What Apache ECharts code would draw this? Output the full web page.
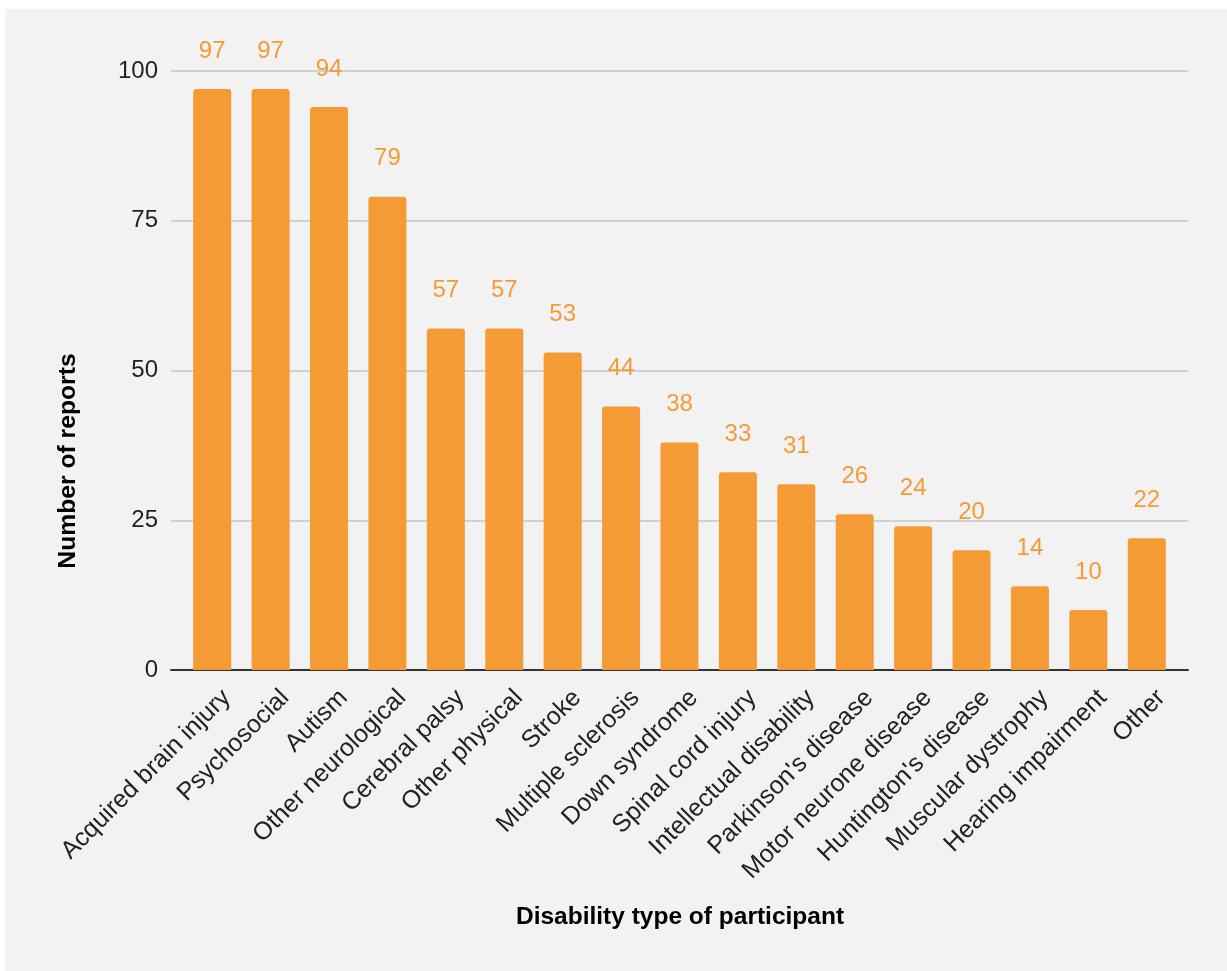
<!DOCTYPE html>
<html>
<head>
<meta charset="utf-8">
<title>Disability type of participant</title>
<script src="https://cdn.jsdelivr.net/npm/echarts@6/dist/echarts.min.js"></script>
<style>
  html, body { margin: 0; padding: 0; background: #fff; }
  #chart { width: 1227px; height: 971px; }
</style>
</head>
<body>
<div id="chart"></div>
<script>
// 类别 / 数值
const categories = [
  'Acquired brain injury', 'Psychosocial', 'Autism', 'Other neurological',
  'Cerebral palsy', 'Other physical', 'Stroke', 'Multiple sclerosis',
  'Down syndrome', 'Spinal cord injury', 'Intellectual disability',
  "Parkinson's disease", 'Motor neurone disease', "Huntington's disease",
  'Muscular dystrophy', 'Hearing impairment', 'Other'
]
const reports = [97, 97, 94, 79, 57, 57, 53, 44, 38, 33, 31, 26, 24, 20, 14, 10, 22]
const yTicks = [0, 25, 50, 75, 100]

const ORANGE = '#f49b36'
const FONT = '"Liberation Sans", Arial, sans-serif'
const chart = echarts.init(document.getElementById('chart'))

// 标签相对刻度向右偏移
const LABEL_SHIFT = 14.5

const option = {
  backgroundColor: '#ffffff',
  animation: false,
  graphic: [
    // 灰色面板
    { type: 'rect', z: -10, silent: true, shape: { x: 5, y: 9, width: 1222, height: 962 }, style: { fill: '#f2f2f2' } },
    {
      type: 'text', silent: true, x: 68, y: 461, rotation: Math.PI / 2,
      style: {
        text: 'Number of reports', fill: '#000', align: 'center', verticalAlign: 'middle',
        font: 'bold 24.7px ' + FONT
      }
    },
    {
      type: 'text', silent: true, x: 680, y: 917,
      style: {
        text: 'Disability type of participant', fill: '#000', align: 'center', verticalAlign: 'middle',
        font: 'bold 24.5px ' + FONT
      }
    }
  ],
  grid: [
    // 网格线 + 坐标轴线（略宽于柱子区域）
    { left: 171, right: 39, top: 71, bottom: 301, outerBoundsMode: 'none' },
    // 柱子
    { left: 183, right: 51, top: 71, bottom: 301, outerBoundsMode: 'none' },
    // 类别标签
    { left: 183 + LABEL_SHIFT, right: 51 - LABEL_SHIFT, top: 71, bottom: 301, outerBoundsMode: 'none' }
  ],
  xAxis: [
    {
      gridIndex: 0, type: 'category', data: [''],
      axisLine: { lineStyle: { color: '#333', width: 2 } },
      axisTick: { show: false }, axisLabel: { show: false }
    },
    {
      gridIndex: 1, type: 'category', data: categories,
      axisLine: { show: false }, axisTick: { show: false }, axisLabel: { show: false }
    },
    {
      gridIndex: 2, type: 'category', data: categories,
      axisLine: { show: false }, axisTick: { show: false },
      axisLabel: {
        rotate: 45, interval: 0, margin: 24,
        color: '#222', fontSize: 25, fontFamily: FONT
      }
    }
  ],
  yAxis: [
    {
      gridIndex: 0, type: 'value', min: yTicks[0], max: yTicks[yTicks.length - 1], interval: 25,
      axisLine: { show: false }, axisTick: { show: false },
      axisLabel: { margin: 13, color: '#222', fontSize: 24, fontFamily: FONT },
      splitLine: { lineStyle: { color: '#c6c6c6', width: 1.5 } }
    },
    { gridIndex: 1, type: 'value', min: 0, max: 100, interval: 25, show: false },
    { gridIndex: 2, type: 'value', min: 0, max: 100, interval: 25, show: false }
  ],
  series: [
    {
      type: 'bar', xAxisIndex: 1, yAxisIndex: 1,
      data: reports, barWidth: 38,
      itemStyle: { color: ORANGE, borderRadius: [3, 3, 0, 0] },
      label: {
        show: true, position: 'top', distance: 26,
        color: ORANGE, fontSize: 24, fontFamily: FONT
      }
    }
  ]
}

chart.setOption(option)
window.addEventListener('resize', () => chart.resize())
</script>
</body>
</html>
